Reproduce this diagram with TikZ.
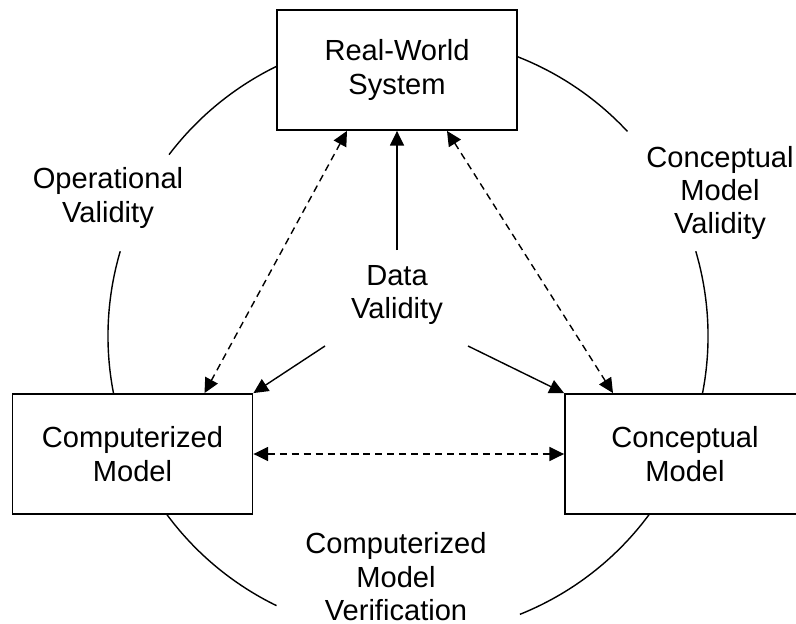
\documentclass[tikz,border=0pt]{standalone}
\usepackage{fontspec}
\setmainfont{Liberation Sans}
\usetikzlibrary{arrows.meta,positioning,calc}

\begin{document}
\begin{tikzpicture}[
  box/.style={draw, line width=1.3pt, fill=white, minimum width=6cm, minimum height=3cm, align=center},
  lbl/.style={align=center},
  link/.style={-{Triangle[length=10.5pt,width=10pt]}, line width=1pt},
  dlink/.style={{Triangle[length=10.5pt,width=10pt]}-{Triangle[length=10.5pt,width=10pt]}, line width=1pt, dash pattern=on 5pt off 3.5pt},
  font=\fontsize{20.7}{23.8}\selectfont]
  \clip (0,0) rectangle (19.9,15.575);
  % outer cycle, broken where the labels sit
  \draw[line width=1pt] (10.2,7.175) ++(43:7.5) arc (43:142.8:7.5);
  \draw[line width=1pt] (10.2,7.175) ++(163.6:7.5) arc (163.6:244:7.5);
  \draw[line width=1pt] (10.2,7.175) ++(291.9:7.5) arc (291.9:376.4:7.5);
  % the three models
  \node[box] (real) at (9.925,13.825) {Real-World\\System};
  \node[box] (comp) at (3.3125,4.225) {Computerized\\Model};
  \node[box] (conc) at (17.125,4.225) {Conceptual\\Model};
  % labels
  \node[lbl] (opval) at (2.7,10.62) {Operational\\Validity};
  \node[lbl] (cmval) at (18.0,10.75) {Conceptual\\Model\\Validity};
  \node[lbl] (cmver) at (9.9,1.16) {Computerized\\Model\\Verification};
  \node[lbl] (dval) at (9.925,8.2) {Data\\Validity};
  \coordinate (dvup) at (9.925,9.325);
  \coordinate (dvleft) at (8.125,6.925);
  \coordinate (dvright) at (11.7,6.925);
  % data validity
  \draw[link] (dvup) -- (real.south);
  \draw[link] (dvleft) -- (comp.north east);
  \draw[link] (dvright) -- (conc.north west);
  % validation / verification
  \draw[dlink] ([xshift=-1.25cm]real.south) -- ([xshift=1.8cm]comp.north);
  \draw[dlink] ([xshift=1.25cm]real.south) -- ([xshift=-1.8cm]conc.north);
  \draw[dlink] (comp.east) -- (conc.west);
\end{tikzpicture}
\end{document}
